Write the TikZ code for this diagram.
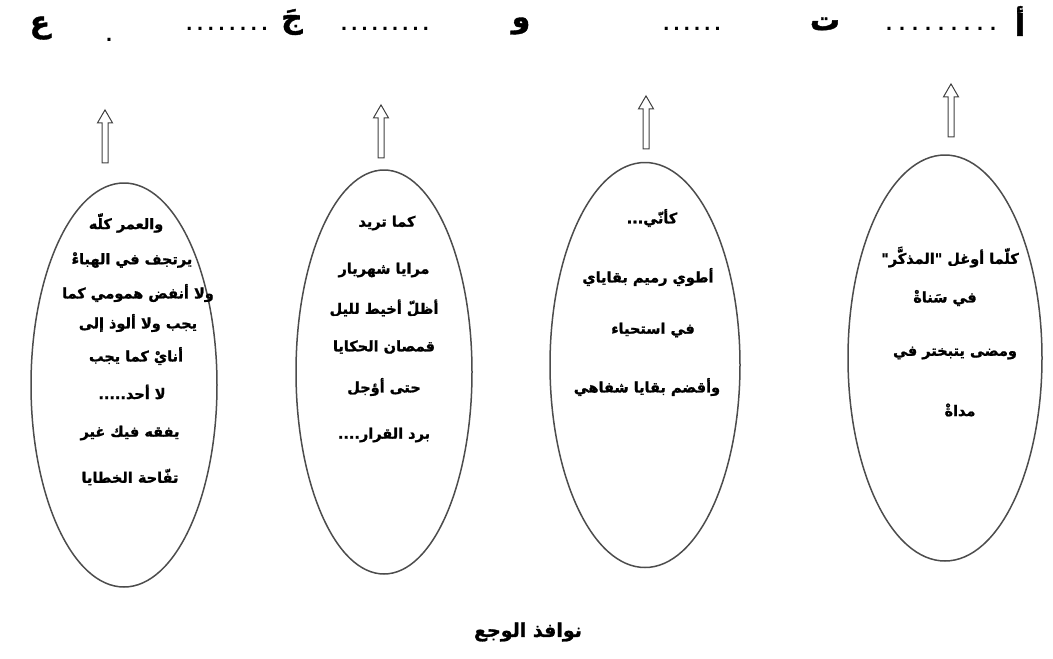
\documentclass[tikz,border=0pt]{standalone}
\usepackage{fontspec}
\setmainfont{DejaVu Sans}
\newfontfamily\ar[Script=Arabic,BoldFeatures={FakeBold=1.3}]{DejaVu Sans}
\TeXXeTstate=1
\usetikzlibrary{shapes.geometric,shapes.arrows}
\newcommand\dotrow[2]{\hbox to #1pt{\xleaders\hbox to #2pt{\hss.\hss}\hfill}}
\begin{document}
\begin{tikzpicture}[x=1pt,y=-1pt,
  oval/.style={ellipse, draw=black!70, line width=1.5pt, inner sep=0pt},
  uparrow/.style={single arrow, draw=black!75, line width=1pt, rotate=90,
    minimum height=53pt, minimum width=14pt, single arrow head extend=4.5pt,
    single arrow tip angle=60, inner sep=2.5pt},
  ln/.style={font=\ar\bfseries\fontsize{14.5}{16}\selectfont, inner sep=0pt},
  top/.style={font=\ar\bfseries\fontsize{30}{32}\selectfont, inner sep=0pt},
  dots/.style={font=\bfseries\fontsize{17}{18}\selectfont, inner sep=0pt},
  title/.style={font=\ar\bfseries\fontsize{19}{22}\selectfont, inner sep=0pt}]
\useasboundingbox (0,0) rectangle (1053,659);
% top row
\node[top] (la) at (1020,21) {\beginR أ\endR};
\node[dots] (d1) at (941,29) {\dotrow{117}{13}};
\node[top] (lt) at (825,24) {\beginR ت\endR};
\node[dots] (d2) at (692,29) {\dotrow{62}{10}};
\node[top] (lw) at (521,26) {\beginR و\endR};
\node[dots] (d3) at (385,29) {\dotrow{92}{10.2}};
\node[top] (lj) at (292,22) {\beginR جَ\endR};
\node[dots] (d4) at (227,29) {\dotrow{86}{10.7}};
\node[dots] (d5) at (109,40) {.};
\node[top] (le) at (40,28) {\beginR ع\endR};
% ellipses
\node[oval, minimum width=186pt, minimum height=404pt] (e1) at (124,385) {};
\node[oval, minimum width=176pt, minimum height=404pt] (e2) at (384,372) {};
\node[oval, minimum width=190pt, minimum height=405pt] (e3) at (645,365) {};
\node[oval, minimum width=194pt, minimum height=406pt] (e4) at (945,358) {};
% arrows
\node[uparrow] (a1) at (105,139) {};
\node[uparrow] (a2) at (381,134) {};
\node[uparrow] (a3) at (646,125) {};
\node[uparrow] (a4) at (951,113) {};
% ellipse 1
\node[ln] (t11) at (126,223) {\beginR والعمر كلّه\endR};
\node[ln] (t12) at (132,260) {\beginR يرتجف في الهباءْ\endR};
\node[ln] (t13) at (138,293) {\beginR ولا أنفض همومي كما\endR};
\node[ln] (t14) at (138,323) {\beginR يجب ولا ألوذ إلى\endR};
\node[ln] (t15) at (136,356) {\beginR أنايْ كما يجب\endR};
\node[ln] (t16) at (132,392) {\beginR لا أحد.....\endR};
\node[ln] (t17) at (130,433) {\beginR يفقه فيك غير\endR};
\node[ln] (t18) at (130,477) {\beginR تفّاحة الخطايا\endR};
% ellipse 2
\node[ln] (t21) at (387,223) {\beginR كما تريد\endR};
\node[ln] (t22) at (384,270) {\beginR مرايا شهريار\endR};
\node[ln] (t23) at (384,308) {\beginR أظلّ أخيط لليل\endR};
\node[ln] (t24) at (384,347) {\beginR قمصان الحكايا\endR};
\node[ln] (t25) at (384,387) {\beginR حتى أؤجل\endR};
\node[ln] (t26) at (384,435) {\beginR برد القرار....\endR};
% ellipse 3
\node[ln] (t31) at (652,218) {\beginR كأنّي...\endR};
\node[ln] (t32) at (648,277) {\beginR أطوي رميم بقاياي\endR};
\node[ln] (t33) at (653,330) {\beginR في استحياء\endR};
\node[ln] (t34) at (647,387) {\beginR وأقضم بقايا شفاهي\endR};
% ellipse 4
\node[ln] (t41) at (950,257) {\beginR كلّما أوغل "المذكَّر"\endR};
\node[ln] (t42) at (945,298) {\beginR في سَناةْ\endR};
\node[ln] (t43) at (955,353) {\beginR ومضى يتبختر في\endR};
\node[ln] (t44) at (960,410) {\beginR مداةْ\endR};
% title
\node[title] (ttl) at (528,632) {\beginR نوافذ الوجع\endR};
\end{tikzpicture}
\end{document}
